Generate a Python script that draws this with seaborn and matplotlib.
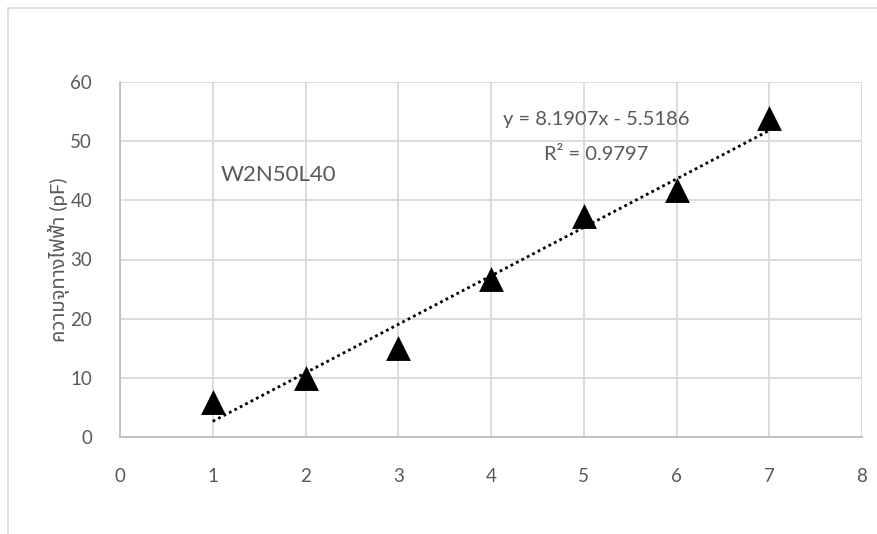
import numpy as np
import pandas as pd
import matplotlib
matplotlib.use("Agg")
import matplotlib.pyplot as plt
import seaborn as sns

# data
x_vals = [1, 2, 3, 4, 5, 6, 7]
capacitance = [6.0, 10.0, 15.0, 26.7, 37.3, 41.7, 53.9]
x_ticks = [0, 1, 2, 3, 4, 5, 6, 7, 8]
y_ticks = [0, 10, 20, 30, 40, 50, 60]
y_label = "ความจุทางไฟฟ้า (pF)"
sample_label = "W2N50L40"
eq_text = "y = 8.1907x - 5.5186"
r2_text = "R² = 0.9797"

sns.set_theme(style="white")
plt.rcParams['font.family'] = ['Lato', 'Noto Sans Thai', 'DejaVu Sans']

grey = "#595959"
grid_c = "#d9d9d9"

df = pd.DataFrame({"x": x_vals, "y": capacitance})

fig = plt.figure(figsize=(8.77, 5.34), dpi=100)
ax = fig.add_axes([120/877, 1-437/534, (862-120)/877, (437-82)/534])

# trendline (linear regression through the data)
coef = np.polyfit(df["x"], df["y"], 1)
xs = np.array([min(x_vals), max(x_vals)])
ax.plot(xs, np.polyval(coef, xs), color="black", linestyle=(0, (1, 1.2)), linewidth=2.0, zorder=2)

sns.scatterplot(data=df, x="x", y="y", marker="^", s=320, color="black",
                edgecolor="black", linewidth=0, ax=ax, zorder=3)

ax.set_xlim(0, 8)
ax.set_ylim(0, 60)
ax.set_xticks(x_ticks)
ax.set_yticks(y_ticks)
ax.grid(True, color=grid_c, linewidth=1.3)
ax.set_axisbelow(True)
for s in ["top", "right"]:
    ax.spines[s].set_visible(False)
for s in ["left", "bottom"]:
    ax.spines[s].set_color("#bfbfbf")
    ax.spines[s].set_linewidth(1.3)
ax.tick_params(axis="both", length=0, labelsize=13.5, labelcolor=grey)
ax.tick_params(axis="x", pad=22)
ax.tick_params(axis="y", pad=20)
ax.set_xlabel("")
ax.set_ylabel(y_label, fontsize=14.5, color=grey, family=['Lato', 'Noto Sans Thai', 'DejaVu Sans'])
ax.yaxis.set_label_coords(-0.068, 0.5)

ax.text(1.08, 44.3, sample_label, fontsize=16, color=grey, va="center", ha="left")
ax.text(5.13, 53.6, eq_text, fontsize=14.5, color=grey, va="center", ha="center")
ax.text(5.13, 47.7, r2_text, fontsize=14.5, color=grey, va="center", ha="center")

# outer chart border (cropped Excel frame)
fig.add_artist(plt.Line2D([8/877, 8/877], [0, 1-8/534], color="#d9d9d9", linewidth=1.2))
fig.add_artist(plt.Line2D([8/877, 1], [1-8/534, 1-8/534], color="#d9d9d9", linewidth=1.2))

fig.savefig("out.png", dpi=100)
